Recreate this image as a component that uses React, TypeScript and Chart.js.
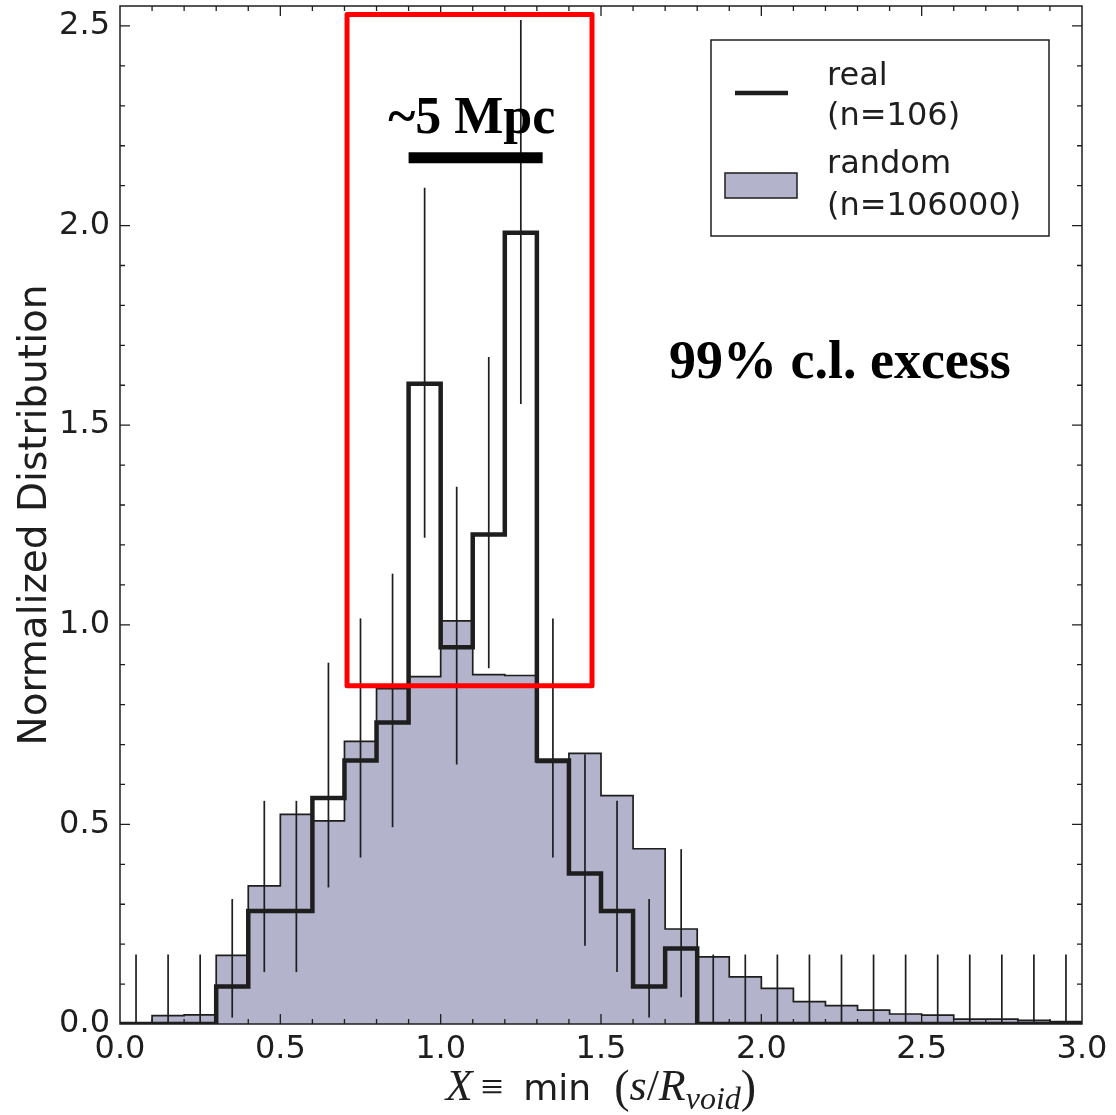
import React, { useEffect, useRef } from 'react';
import { Chart, registerables } from 'chart.js';

Chart.register(...registerables);

// ---------------- data ----------------
const BIN_LEFT = [
  0.0, 0.1, 0.2, 0.3, 0.4, 0.5, 0.6, 0.7, 0.8, 0.9,
  1.0, 1.1, 1.2, 1.3, 1.4, 1.5, 1.6, 1.7, 1.8, 1.9,
  2.0, 2.1, 2.2, 2.3, 2.4, 2.5, 2.6, 2.7, 2.8, 2.9,
];
const BIN_WIDTH = 0.1;

const RANDOM = [
  0.0, 0.021, 0.023, 0.172, 0.346, 0.525, 0.509, 0.708, 0.84, 0.87,
  1.01, 0.875, 0.873, 0.655, 0.678, 0.572, 0.439, 0.238, 0.168, 0.118,
  0.089, 0.056, 0.046, 0.035, 0.025, 0.022, 0.012, 0.012, 0.009, 0.006,
];

const REAL = [
  0, 0, 0, 0.094, 0.283, 0.283, 0.566, 0.66, 0.755, 1.604,
  0.944, 1.226, 1.982, 0.66, 0.377, 0.283, 0.094, 0.189, 0, 0,
  0, 0, 0, 0, 0, 0, 0, 0, 0, 0,
];

const ERR_LOW = [
  0, 0, 0, 0.016, 0.13, 0.13, 0.342, 0.417, 0.493, 1.218,
  0.65, 0.891, 1.553, 0.417, 0.196, 0.13, 0.016, 0.067, 0, 0,
  0, 0, 0, 0, 0, 0, 0, 0, 0, 0,
];

const ERR_HIGH = [
  0.174, 0.174, 0.174, 0.313, 0.559, 0.559, 0.905, 1.016, 1.128, 2.095,
  1.346, 1.671, 2.515, 1.016, 0.676, 0.559, 0.313, 0.438, 0.174, 0.174,
  0.174, 0.174, 0.174, 0.174, 0.174, 0.174, 0.174, 0.174, 0.174, 0.174,
];

const X_TICKS = [0, 0.5, 1.0, 1.5, 2.0, 2.5, 3.0];
const Y_TICKS = [0, 0.5, 1.0, 1.5, 2.0, 2.5];
const LEGEND_LABELS = [
  ['real', '(n=106)'],
  ['random', '(n=106000)'],
];
const ANNOT_SCALE_TEXT = '~5 Mpc';
const ANNOT_CL_TEXT = '99% c.l. excess';
const Y_TITLE = 'Normalized Distribution';

// ---------------- styles ----------------
const FILL = '#b3b3cc';
const INK = '#1e1e1e';
const RED = '#ff0000';
const SANS = "'DejaVu Sans', sans-serif";
const SERIF = "'Liberation Serif', 'DejaVu Serif', serif";

function steps(vals: number[]) {
  const pts: { x: number; y: number }[] = [{ x: BIN_LEFT[0], y: 0 }];
  vals.forEach((v, i) => {
    pts.push({ x: BIN_LEFT[i], y: v });
    pts.push({ x: BIN_LEFT[i] + BIN_WIDTH, y: v });
  });
  pts.push({ x: BIN_LEFT[BIN_LEFT.length - 1] + BIN_WIDTH, y: 0 });
  return pts;
}

const errorBarPlugin = {
  id: 'errorBars',
  afterDatasetsDraw(chart: any) {
    const { ctx, scales } = chart;
    const xs = scales.x, ys = scales.y;
    ctx.save();
    ctx.beginPath();
    ctx.rect(chart.chartArea.left, chart.chartArea.top, chart.chartArea.right - chart.chartArea.left, chart.chartArea.bottom - chart.chartArea.top);
    ctx.clip();
    ctx.strokeStyle = INK;
    ctx.lineWidth = 1.7;
    BIN_LEFT.forEach((b, i) => {
      const px = xs.getPixelForValue(b + BIN_WIDTH / 2);
      ctx.beginPath();
      ctx.moveTo(px, ys.getPixelForValue(ERR_LOW[i]));
      ctx.lineTo(px, ys.getPixelForValue(ERR_HIGH[i]));
      ctx.stroke();
    });
    ctx.restore();
  },
};

const framePlugin = {
  id: 'frameTicks',
  afterDraw(chart: any) {
    const { ctx, chartArea: a, scales } = chart;
    const xs = scales.x, ys = scales.y;
    ctx.save();
    ctx.strokeStyle = INK;
    ctx.lineWidth = 1.5;
    ctx.strokeRect(a.left, a.top, a.right - a.left, a.bottom - a.top);
    ctx.lineWidth = 1.3;
    for (let k = 1; k < 30; k++) {
      const v = k / 10;
      const len = k % 5 === 0 ? 10 : 5;
      const px = xs.getPixelForValue(v);
      ctx.beginPath();
      ctx.moveTo(px, a.bottom);
      ctx.lineTo(px, a.bottom - len);
      ctx.moveTo(px, a.top);
      ctx.lineTo(px, a.top + len);
      ctx.stroke();
    }
    for (let k = 1; k <= 25; k++) {
      const v = k / 10;
      const len = k % 5 === 0 ? 10 : 5;
      const py = ys.getPixelForValue(v);
      ctx.beginPath();
      ctx.moveTo(a.left, py);
      ctx.lineTo(a.left + len, py);
      ctx.moveTo(a.right, py);
      ctx.lineTo(a.right - len, py);
      ctx.stroke();
    }
    ctx.restore();
  },
};

const annotationPlugin = {
  id: 'annotations',
  afterDraw(chart: any) {
    const { ctx, scales } = chart;
    const xs = scales.x, ys = scales.y;
    ctx.save();
    const x0 = xs.getPixelForValue(0.708), x1 = xs.getPixelForValue(1.472);
    const y0 = ys.getPixelForValue(2.529), y1 = ys.getPixelForValue(0.847);
    ctx.strokeStyle = RED;
    ctx.lineWidth = 5;
    ctx.lineJoin = 'round';
    ctx.strokeRect(x0, y0, x1 - x0, y1 - y0);
    ctx.strokeStyle = '#000';
    ctx.lineWidth = 11;
    ctx.lineCap = 'butt';
    ctx.beginPath();
    const by = ys.getPixelForValue(2.17);
    ctx.moveTo(xs.getPixelForValue(0.9), by);
    ctx.lineTo(xs.getPixelForValue(1.318), by);
    ctx.stroke();
    ctx.fillStyle = '#000';
    ctx.font = `bold 52px ${SERIF}`;
    ctx.textAlign = 'center';
    ctx.textBaseline = 'alphabetic';
    ctx.fillText(ANNOT_SCALE_TEXT, xs.getPixelForValue(1.097), ys.getPixelForValue(2.232));
    ctx.font = `bold 54px ${SERIF}`;
    ctx.fillText(ANNOT_CL_TEXT, xs.getPixelForValue(2.245), ys.getPixelForValue(1.618));
    ctx.restore();
  },
};

const legendPlugin = {
  id: 'customLegend',
  afterDraw(chart: any) {
    const { ctx, chartArea: a } = chart;
    const bx = a.right - 371, by = a.top + 34, bw = 338, bh = 196;
    ctx.save();
    ctx.fillStyle = '#fff';
    ctx.fillRect(bx, by, bw, bh);
    ctx.strokeStyle = INK;
    ctx.lineWidth = 1.5;
    ctx.strokeRect(bx, by, bw, bh);
    ctx.lineWidth = 4.5;
    ctx.beginPath();
    ctx.moveTo(bx + 24, by + 53);
    ctx.lineTo(bx + 77, by + 53);
    ctx.stroke();
    ctx.fillStyle = FILL;
    ctx.fillRect(bx + 14, by + 133, 72, 25);
    ctx.lineWidth = 1.5;
    ctx.strokeRect(bx + 14, by + 133, 72, 25);
    ctx.fillStyle = INK;
    ctx.font = `32px ${SANS}`;
    ctx.textAlign = 'left';
    ctx.textBaseline = 'alphabetic';
    ctx.fillText(LEGEND_LABELS[0][0], bx + 116, by + 45);
    ctx.fillText(LEGEND_LABELS[0][1], bx + 116, by + 85);
    ctx.fillText(LEGEND_LABELS[1][0], bx + 116, by + 133);
    ctx.fillText(LEGEND_LABELS[1][1], bx + 116, by + 175);
    ctx.restore();
  },
};

const titlesPlugin = {
  id: 'axisTitles',
  afterDraw(chart: any) {
    const { ctx, chartArea: a } = chart;
    ctx.save();
    ctx.fillStyle = INK;
    ctx.translate(46, (a.top + a.bottom) / 2);
    ctx.rotate(-Math.PI / 2);
    ctx.font = `39px ${SANS}`;
    ctx.textAlign = 'center';
    ctx.textBaseline = 'alphabetic';
    ctx.fillText(Y_TITLE, 0, 0);
    ctx.restore();

    ctx.save();
    ctx.fillStyle = INK;
    ctx.textAlign = 'left';
    ctx.textBaseline = 'alphabetic';
    const base = 1100;
    const parts: { t: string; f: string; dy: number }[] = [
      { t: 'X', f: `italic 44px ${SERIF}`, dy: 0 },
      { t: '\u2009\u2261\u2002', f: `40px ${SERIF}`, dy: 0 },
      { t: 'min', f: `36px ${SANS}`, dy: 0 },
      { t: '\u2002(', f: `46px ${SERIF}`, dy: 2 },
      { t: 's', f: `italic 44px ${SERIF}`, dy: 0 },
      { t: '/', f: `44px ${SERIF}`, dy: 0 },
      { t: 'R', f: `italic 44px ${SERIF}`, dy: 0 },
      { t: 'void', f: `italic 32px ${SERIF}`, dy: 9 },
      { t: ')', f: `46px ${SERIF}`, dy: 2 },
    ];
    let total = 0;
    parts.forEach((p) => { ctx.font = p.f; total += ctx.measureText(p.t).width; });
    let cx = 601 - total / 2;
    parts.forEach((p) => {
      ctx.font = p.f;
      ctx.fillText(p.t, cx, base + p.dy);
      cx += ctx.measureText(p.t).width;
    });
    ctx.restore();
  },
};

export default function App() {
  const ref = useRef<HTMLCanvasElement | null>(null);
  useEffect(() => {
    if (!ref.current) return;
    const chart = new Chart(ref.current, {
      type: 'line',
      data: {
        datasets: [
          {
            label: 'real',
            data: steps(REAL),
            fill: false,
            borderColor: INK,
            borderWidth: 4.5,
            pointRadius: 0,
            tension: 0,
            borderJoinStyle: 'miter',
          },
          {
            label: 'random',
            data: steps(RANDOM),
            fill: 'origin',
            backgroundColor: FILL,
            borderColor: INK,
            borderWidth: 1.7,
            pointRadius: 0,
            tension: 0,
            borderJoinStyle: 'miter',
          },
        ],
      },
      options: {
        animation: false,
        responsive: false,
        devicePixelRatio: 1,
        layout: { padding: { left: 0, top: 6, right: 34, bottom: 0 } },
        plugins: { legend: { display: false }, tooltip: { enabled: false } },
        scales: {
          x: {
            type: 'linear',
            min: 0,
            max: 3,
            grid: { display: false, drawTicks: false },
            border: { display: false },
            ticks: {
              color: INK,
              font: { family: SANS, size: 32 },
              padding: 6,
              maxRotation: 0,
              callback: (v: any) => Number(v).toFixed(1),
            },
            afterBuildTicks: (s: any) => { s.ticks = X_TICKS.map((v) => ({ value: v })); },
            afterFit: (s: any) => { s.height = 91; s.paddingLeft = 0; s.paddingRight = 0; },
          },
          y: {
            type: 'linear',
            min: 0,
            max: 2.55,
            grid: { display: false, drawTicks: false },
            border: { display: false },
            ticks: {
              color: INK,
              font: { family: SANS, size: 32 },
              padding: 10,
              callback: (v: any) => Number(v).toFixed(1),
            },
            afterBuildTicks: (s: any) => { s.ticks = Y_TICKS.map((v) => ({ value: v })); },
            afterFit: (s: any) => { s.width = 120; s.paddingTop = 0; s.paddingBottom = 0; },
          },
        },
      },
      plugins: [errorBarPlugin, framePlugin, annotationPlugin, legendPlugin, titlesPlugin],
    } as any);
    return () => chart.destroy();
  }, []);
  return (
    <div style={{ position: 'absolute', left: 0, top: 0, width: 1116, height: 1115 }}>
      <canvas ref={ref} width={1116} height={1115} style={{ display: 'block' }} />
    </div>
  );
}
